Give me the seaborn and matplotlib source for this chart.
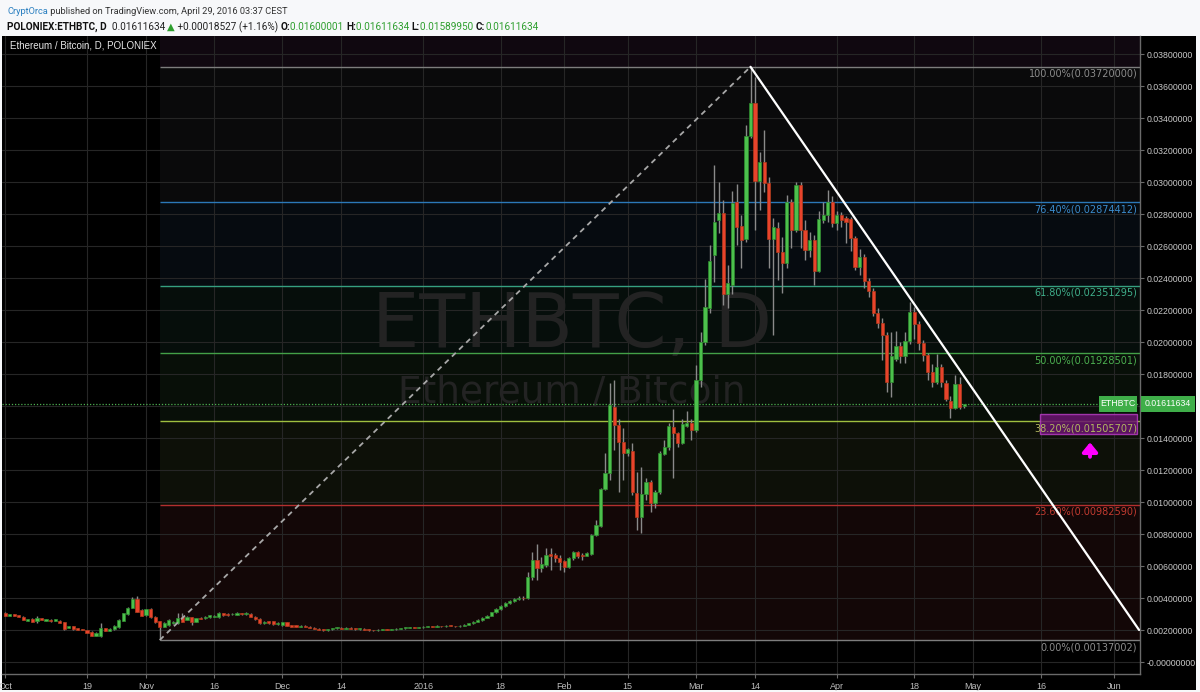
import numpy as np
import pandas as pd
import matplotlib
matplotlib.use("Agg")
import matplotlib.pyplot as plt
import seaborn as sns
from matplotlib import font_manager
from matplotlib.patches import Rectangle

# ---------------- data (daily candles, day 0 = 2015-10-01) ----------------
opens = [
    .00308, .00290, .00298, .00292, .00283, .00256, .00270, .00256, .00273, .00256,
    .00263, .00256, .00258, .00248, .00212, .00225, .00210, .00204, .00200, .00190,
    .00163, .00165, .00210, .00196, .00204, .00217, .00256, .00298, .00340, .00392,
    .00325, .00294, .00331, .00283, .00256, .00221, .00231, .00242, .00242, .00283,
    .00263, .00279, .00252, .00276, .00273, .00279, .00283, .00279, .00304, .00302,
    .00298, .00294, .00304, .00298, .00302, .00283, .00269, .00242, .00256, .00256,
    .00237, .00231, .00248, .00231, .00231, .00221, .00228, .00221, .00215, .00208,
    .00202, .00199, .00205, .00211, .00214, .00209, .00215, .00209, .00205, .00209,
    .00203, .00199, .00197, .00202, .00205, .00200, .00204, .00208, .00212, .00215,
    .00218, .00213, .00216, .00220, .00224, .00221, .00226, .00223, .00228, .00225,
    .00223, .00228, .00233, .00241, .00252, .00262, .00276, .00290, .00310, .00330,
    .00352, .00370, .00384, .00393, .00402, .00398, .00533, .00638, .00585, .00606,
    .00673, .00669, .00648, .00631, .00596, .00648, .00690, .00669, .00663, .00675,
    .00794, .00852, .01081, .01183, .01596, .01481, .01377, .01304, .01321, .01058,
    .00908, .01050, .01127, .00992, .01065, .01300, .01342, .01471, .01429, .01367,
    .01475, .01496, .01450, .01763, .02002, .02210, .02544, .02763, .02804, .02298,
    .02356, .02877, .02725, .02644, .03290, .03492, .03006, .03123, .02992, .02644,
    .02715, .02565, .02492, .02873, .02700, .02981, .02700, .02575, .02638, .02444,
    .02763, .02794, .02877, .02742, .02794, .02775, .02769, .02648, .02470, .02529,
    .02383, .02320, .02183, .02120, .02044, .01752, .01895, .01975, .01912, .02008,
    .02190, .02112, .01996, .01919, .01814, .01752, .01846, .01746, .01633, .01585,
    .01740, .01600001,
]
highs = [
    .00312, .00300, .00300, .00295, .00286, .00270, .00272, .00287, .00277, .00269,
    .00266, .00270, .00262, .00252, .00228, .00228, .00212, .00206, .00203, .00192,
    .00186, .00242, .00214, .00210, .00230, .00266, .00308, .00344, .00408, .00413,
    .00330, .00333, .00336, .00286, .00259, .00250, .00268, .00255, .00308, .00308,
    .00287, .00283, .00276, .00279, .00287, .00296, .00293, .00315, .00307, .00305,
    .00305, .00310, .00307, .00312, .00305, .00286, .00272, .00255, .00259, .00259,
    .00249, .00251, .00251, .00234, .00234, .00232, .00231, .00224, .00218, .00212,
    .00206, .00208, .00214, .00217, .00216, .00218, .00217, .00211, .00212, .00211,
    .00205, .00202, .00205, .00208, .00207, .00206, .00211, .00215, .00218, .00221,
    .00220, .00219, .00223, .00227, .00226, .00229, .00228, .00231, .00230, .00228,
    .00231, .00236, .00244, .00255, .00266, .00280, .00295, .00315, .00335, .00358,
    .00375, .00390, .00398, .00410, .00415, .00560, .00690, .00738, .00658, .00710,
    .00710, .00679, .00669, .00638, .00658, .00692, .00696, .00683, .00690, .00800,
    .00888, .01085, .01304, .01742, .01763, .01517, .01460, .01340, .01367, .01190,
    .01221, .01148, .01138, .01075, .01320, .01388, .01492, .01579, .01440, .01517,
    .01570, .01517, .01856, .02065, .02394, .02606, .03106, .03002, .02888, .02481,
    .02944, .02986, .02794, .03356, .03720, .03658, .03190, .03325, .03033, .02773,
    .02752, .02658, .02919, .02894, .03002, .03002, .02763, .02690, .02669, .02819,
    .02877, .02950, .02910, .02820, .02810, .02790, .02780, .02660, .02580, .02550,
    .02400, .02340, .02210, .02150, .02060, .02065, .02070, .02000, .02060, .02250,
    .02220, .02130, .02010, .01930, .01860, .01925, .01860, .01760, .01660, .01792,
    .01780, .01611634,
]
lows = [
    .00285, .00287, .00288, .00281, .00260, .00254, .00250, .00246, .00261, .00254,
    .00252, .00254, .00244, .00198, .00210, .00202, .00198, .00198, .00181, .00160,
    .00160, .00158, .00194, .00194, .00202, .00215, .00254, .00296, .00338, .00310,
    .00286, .00290, .00275, .00244, .00137, .00216, .00228, .00238, .00235, .00248,
    .00260, .00231, .00249, .00266, .00270, .00276, .00280, .00276, .00289, .00289,
    .00295, .00291, .00295, .00295, .00280, .00264, .00239, .00239, .00239, .00232,
    .00234, .00228, .00224, .00218, .00218, .00218, .00218, .00212, .00205, .00198,
    .00196, .00196, .00203, .00207, .00206, .00206, .00206, .00202, .00203, .00200,
    .00196, .00193, .00195, .00199, .00197, .00198, .00202, .00206, .00209, .00212,
    .00210, .00211, .00214, .00218, .00218, .00219, .00220, .00221, .00222, .00220,
    .00221, .00226, .00231, .00238, .00249, .00259, .00272, .00286, .00305, .00325,
    .00346, .00362, .00372, .00385, .00390, .00395, .00513, .00513, .00565, .00596,
    .00575, .00627, .00575, .00565, .00585, .00640, .00648, .00638, .00660, .00669,
    .00788, .00846, .01075, .01138, .01325, .01065, .01138, .01290, .01044, .00825,
    .00804, .01013, .00940, .00960, .01050, .01294, .01325, .01148, .01346, .01363,
    .01471, .01388, .01440, .01720, .01980, .02180, .02377, .02680, .02231, .02210,
    .02300, .02606, .02460, .02627, .03273, .02700, .02825, .02940, .02460, .02044,
    .02388, .02304, .02460, .02585, .02690, .02585, .02513, .02533, .02356, .02440,
    .02742, .02750, .02720, .02700, .02720, .02620, .02570, .02450, .02420, .02340,
    .02280, .02160, .02085, .01888, .01689, .01658, .01880, .01870, .01870, .01990,
    .02020, .01950, .01880, .01763, .01720, .01740, .01720, .01630, .01523, .01580,
    .01580, .01589950,
]
closes = [
    .00288, .00298, .00290, .00283, .00263, .00267, .00252, .00276, .00263, .00267,
    .00254, .00267, .00246, .00204, .00225, .00204, .00200, .00200, .00183, .00163,
    .00183, .00210, .00196, .00206, .00225, .00263, .00304, .00340, .00392, .00315,
    .00290, .00329, .00279, .00248, .00217, .00246, .00263, .00252, .00276, .00252,
    .00283, .00252, .00273, .00269, .00283, .00292, .00290, .00304, .00292, .00292,
    .00302, .00306, .00298, .00308, .00283, .00267, .00242, .00252, .00242, .00235,
    .00246, .00248, .00227, .00221, .00221, .00228, .00221, .00215, .00208, .00202,
    .00199, .00205, .00211, .00214, .00209, .00215, .00209, .00205, .00209, .00203,
    .00199, .00197, .00202, .00205, .00200, .00204, .00208, .00212, .00215, .00218,
    .00213, .00216, .00220, .00224, .00221, .00226, .00223, .00228, .00225, .00223,
    .00228, .00233, .00241, .00252, .00262, .00276, .00290, .00310, .00330, .00352,
    .00370, .00384, .00393, .00402, .00398, .00530, .00638, .00585, .00613, .00669,
    .00665, .00648, .00623, .00596, .00648, .00685, .00665, .00663, .00679, .00794,
    .00856, .01081, .01179, .01606, .01481, .01377, .01304, .01329, .01065, .00908,
    .01050, .01127, .00992, .01065, .01304, .01342, .01475, .01433, .01371, .01485,
    .01496, .01450, .01763, .02002, .02220, .02506, .02752, .02804, .02298, .02367,
    .02867, .02721, .02638, .03290, .03492, .03006, .03123, .02992, .02644, .02721,
    .02565, .02492, .02873, .02700, .02981, .02700, .02575, .02638, .02444, .02767,
    .02794, .02877, .02742, .02794, .02763, .02750, .02648, .02470, .02529, .02383,
    .02320, .02183, .02120, .02044, .01752, .01910, .01975, .01912, .02008, .02190,
    .02112, .01996, .01919, .01814, .01752, .01846, .01752, .01642, .01585, .01740,
    .01596, .01611634,
]

tick_days = [0, 18, 31, 46, 61, 74, 92, 109, 123, 137, 152, 165, 183, 200, 213, 228, 244]
tick_labels = ["Oct", "19", "Nov", "16", "Dec", "14", "2016", "18", "Feb", "15",
               "Mar", "14", "Apr", "18", "May", "16", "Jun"]

price_ticks = [0.000, 0.002, 0.004, 0.006, 0.008, 0.010, 0.012, 0.014, 0.016, 0.018,
               0.020, 0.022, 0.024, 0.026, 0.028, 0.030, 0.032, 0.034, 0.036, 0.038]
price_tick_labels = ["-0.00000000", "0.00200000", "0.00400000", "0.00600000", "0.00800000",
                     "0.01000000", "0.01200000", "0.01400000", "", "0.01800000",
                     "0.02000000", "0.02200000", "0.02400000", "0.02600000", "0.02800000",
                     "0.03000000", "0.03200000", "0.03400000", "0.03600000", "0.03800000"]

fib_names = ["100.00%", "76.40%", "61.80%", "50.00%", "38.20%", "23.60%", "0.00%"]
fib_prices = [0.03720000, 0.02874412, 0.02351295, 0.01928501, 0.01505707, 0.00982590, 0.00137002]

last_price = 0.01611634
swing_low_day, swing_high_day = 34, 164
trend_end_day, trend_end_price = 249.5, 0.0020

# ---------------- styling ----------------
sns.set_style("dark", rc={"axes.facecolor": "#000000", "figure.facecolor": "#f7f8fa"})
plt.rcParams["font.family"] = ["DejaVu Sans"]

avail = {f.name for f in font_manager.fontManager.ttflist}
axis_font = "Liberation Sans" if "Liberation Sans" in avail else "DejaVu Sans"
head_font = "Liberation Sans Narrow" if "Liberation Sans Narrow" in avail else (
    "Roboto" if "Roboto" in avail else "DejaVu Sans")

W, H = 1200, 692
fig = plt.figure(figsize=(W / 100, H / 100), dpi=100)
fig.patch.set_facecolor("#f7f8fa")
fig.add_artist(Rectangle((2 / W, 2 / H), 1194 / W, 654 / H, transform=fig.transFigure,
                         facecolor="#000000", edgecolor="none", zorder=0))

ax = fig.add_axes([2 / W, 18 / H, 1138 / W, 638 / H])
ax.set_facecolor("#000000")
XMIN, XMAX = -0.7, 249.7
ax.set_xlim(XMIN, XMAX)
ax.set_ylim(-0.00075, 0.039125)

# fib background bands
band_edges = [0.039125] + fib_prices
band_cols = ["#100810", "#0a0a0b", "#060b10", "#060e0b", "#080f08", "#0d1008", "#130707"]
for i, c in enumerate(band_cols):
    ax.fill_between([swing_low_day, XMAX], band_edges[i + 1], band_edges[i],
                    color=c, lw=0, zorder=0.2)

# grid
ax.set_axisbelow(True)
ax.set_xticks(tick_days)
ax.set_yticks(price_ticks)
ax.grid(True, color="#262626", lw=0.8, zorder=0.5)

# watermark
ax.text(124.7, 0.02094, "ETHBTC, D", fontsize=54, color="#232323", ha="center",
        va="center", zorder=0.6)
ax.text(124.7, 0.01681, "Ethereum / Bitcoin", fontsize=27, color="#232323",
        ha="center", va="center", zorder=0.6)

# fib lines and labels
fib_line_cols = ["#7d7d7d", "#2b78b8", "#359f80", "#43a047", "#9fbf3f", "#b32f2f", "#7d7d7d"]
fib_text_cols = ["#8c8c8c", "#3b8bcc", "#3fae8a", "#4caf50", "#b3b860", "#c23b30", "#8c8c8c"]
for name, p, lc, tc in zip(fib_names, fib_prices, fib_line_cols, fib_text_cols):
    ax.hlines(p, swing_low_day, XMAX, color=lc, lw=1.0, zorder=2)

# purple highlight box around 38.2% label + arrow
ax.add_patch(Rectangle((227.7, 0.01425), 21.4, 0.00125, facecolor="#6a1470", alpha=0.85,
                       edgecolor="#b53cc0", lw=1.0, zorder=2.5))
ax.annotate("", xy=(238.7, 0.01390), xytext=(238.7, 0.01265),
            arrowprops=dict(arrowstyle="-|>,head_width=0.45,head_length=0.55",
                            color="#ff00ff", lw=2.8), zorder=5)

for name, p, lc, tc in zip(fib_names, fib_prices, fib_line_cols, fib_text_cols):
    ax.annotate(f"{name}({p:.8f})", xy=(249.1, p), xytext=(0, -1.5),
                textcoords="offset points", ha="right", va="top", fontsize=7,
                color=tc, zorder=3)

# current price dotted line
ax.axhline(last_price, color="#4caf50", lw=0.9, ls=(0, (1, 1.5)), zorder=2)

# candles
df = pd.DataFrame({"day": np.arange(len(opens)), "open": opens, "high": highs,
                   "low": lows, "close": closes})
df["high"] = df[["open", "high", "close"]].max(axis=1)
df["low"] = df[["open", "low", "close"]].min(axis=1)
up = df["close"] >= df["open"]
ax.vlines(df["day"], df["low"], df["high"], color="#8a8a8a", lw=1.0, zorder=3)
body_bottom = df[["open", "close"]].min(axis=1)
body_h = (df["close"] - df["open"]).abs().clip(lower=0.00005)
ax.bar(df.loc[up, "day"], body_h[up], bottom=body_bottom[up], width=0.7,
       color="#4cc04c", edgecolor="#2e8b2e", lw=0.5, zorder=4)
ax.bar(df.loc[~up, "day"], body_h[~up], bottom=body_bottom[~up], width=0.7,
       color="#e8432c", edgecolor="#b03a1a", lw=0.5, zorder=4)

# trend lines (seaborn)
sns.lineplot(x=[swing_low_day, swing_high_day], y=[fib_prices[-1], fib_prices[0]], ax=ax,
             color="#a8a8a8", lw=1.3, linestyle=(0, (3, 2.5)), zorder=5)
sns.lineplot(x=[swing_high_day, trend_end_day], y=[fib_prices[0], trend_end_price], ax=ax,
             color="#ffffff", lw=1.6, zorder=6)

# axes decoration
ax.set_xlabel("")
ax.set_ylabel("")
ax.yaxis.tick_right()
ax.set_xticklabels(tick_labels)
ax.set_yticklabels(price_tick_labels)
for s in ["left", "top"]:
    ax.spines[s].set_visible(False)
for s in ["right", "bottom"]:
    ax.spines[s].set_visible(True)
    ax.spines[s].set_color("#6a6a6a")
    ax.spines[s].set_linewidth(1.0)
ax.tick_params(axis="y", which="both", right=True, left=False, direction="out", length=3,
               color="#6a6a6a", labelcolor="#c8c8c8", labelsize=6.3, pad=2)
ax.tick_params(axis="x", which="both", bottom=True, direction="out", length=3,
               color="#6a6a6a", labelcolor="#bdbdbd", labelsize=6.5, pad=3)
for lab in ax.get_xticklabels() + ax.get_yticklabels():
    lab.set_family(axis_font)

# right side price tags
fig.add_artist(Rectangle((1141 / W, 1 - 412 / H), 54 / W, 16 / H, transform=fig.transFigure,
                         facecolor="#3fae49", edgecolor="none", zorder=5))
fig.text(1168 / W, 1 - 404 / H, "0.01611634", color="white", fontsize=6.3,
         family=axis_font, ha="center", va="center", zorder=6)
fig.add_artist(Rectangle((1099 / W, 1 - 412 / H), 38 / W, 16 / H, transform=fig.transFigure,
                         facecolor="#3fae49", edgecolor="none", zorder=5))
fig.text(1118 / W, 1 - 404 / H, "ETHBTC", color="white", fontsize=6.3,
         family=axis_font, ha="center", va="center", zorder=6)

# chart title
fig.text(10 / W, 1 - 46 / H, "Ethereum / Bitcoin, D, POLONIEX", color="#e6e6e6",
         fontsize=7, family=axis_font, ha="left", va="center")

# header
renderer = fig.canvas.get_renderer()


def seq_text(x_px, y_px, pieces, size, target_w=None):
    def draw(sz):
        x = x_px
        arts = []
        for s, color, weight in pieces:
            t = fig.text(x / W, 1 - y_px / H, s, color=color, fontsize=sz,
                         fontweight=weight, family=[head_font, "DejaVu Sans"],
                         ha="left", va="baseline")
            bb = t.get_window_extent(renderer)
            x = bb.x1
            arts.append(t)
        return arts, x
    arts, xend = draw(size)
    if target_w:
        scale = target_w / (xend - x_px)
        for a in arts:
            a.remove()
        arts, xend = draw(size * scale)
    return arts


green = "#2e9e2e"
seq_text(7, 14, [("CryptOrca", "#2a7fc0", "normal"),
                 (" published on TradingView.com, April 29, 2016 03:37 CEST", "#333333", "normal")],
         8, target_w=283)
seq_text(7, 30, [("POLONIEX:ETHBTC, D", "#111111", "bold"),
                 ("  0.01611634 ", "#222222", "normal"),
                 ("\u25B2", green, "normal"),
                 (" +0.00018527 (+1.16%) ", "#222222", "normal"),
                 ("O:", "#111111", "bold"), ("0.01600001 ", green, "normal"),
                 ("H:", "#111111", "bold"), ("0.01611634 ", green, "normal"),
                 ("L:", "#111111", "bold"), ("0.01589950 ", green, "normal"),
                 ("C:", "#111111", "bold"), ("0.01611634", green, "normal")],
         8, target_w=534)

fig.savefig("out.png", dpi=100, facecolor=fig.get_facecolor())
